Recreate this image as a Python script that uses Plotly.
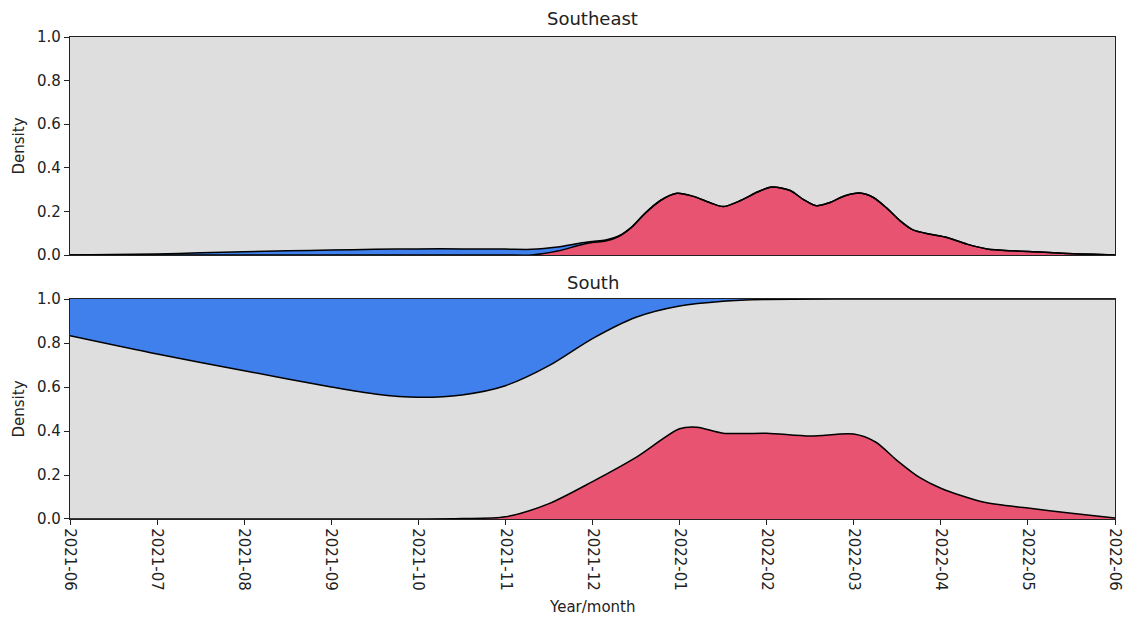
import plotly.graph_objects as go

# Month axis: 0 = 2021-06 ... 12 = 2022-06
month_labels = ["2021-06", "2021-07", "2021-08", "2021-09", "2021-10", "2021-11",
                "2021-12", "2022-01", "2022-02", "2022-03", "2022-04", "2022-05", "2022-06"]

# Southeast: two densities, stacked (red at bottom, blue on top)
se_x = [0, 0.5, 1, 1.5, 2, 2.5, 3, 3.5, 4, 4.5, 5, 5.3, 5.6, 5.85, 6.0, 6.15, 6.3,
        6.45, 6.6, 6.78, 6.97, 7.15, 7.35, 7.5, 7.7, 7.9, 8.06, 8.27, 8.42, 8.57,
        8.72, 8.9, 9.07, 9.22, 9.38, 9.53, 9.68, 9.88, 10.07, 10.3, 10.53, 10.83,
        11.14, 11.45, 11.75, 12]
se_red = [0, 0, 0, 0, 0, 0, 0, 0, 0, 0, 0, 0.0, 0.018, 0.045, 0.057, 0.064, 0.085,
          0.128, 0.19, 0.25, 0.283, 0.27, 0.24, 0.222, 0.25, 0.29, 0.312, 0.296, 0.255,
          0.226, 0.24, 0.272, 0.284, 0.265, 0.215, 0.158, 0.115, 0.095, 0.08, 0.05,
          0.028, 0.019, 0.014, 0.007, 0.003, 0.0]
se_blue = [0, 0.002, 0.005, 0.01, 0.015, 0.019, 0.023, 0.026, 0.028, 0.028, 0.027,
           0.026, 0.019, 0.009, 0.005, 0.005, 0.002, 0, 0, 0, 0, 0, 0, 0, 0, 0, 0,
           0, 0, 0, 0, 0, 0, 0, 0, 0, 0, 0, 0, 0, 0, 0, 0, 0, 0, 0]

# South: red density from zero, blue band from its lower edge up to 1.0
s_red_x = [0, 1, 2, 3, 4, 4.5, 5, 5.5, 6, 6.5, 7, 7.2, 7.5, 8, 8.5, 9, 9.25, 9.5,
           9.75, 10, 10.5, 11, 11.5, 12]
s_red = [0, 0, 0, 0, 0, 0.002, 0.01, 0.07, 0.17, 0.28, 0.41, 0.417, 0.39, 0.39,
         0.377, 0.386, 0.35, 0.265, 0.19, 0.14, 0.076, 0.05, 0.026, 0.004]
s_blue_x = [0, 1, 2, 3, 3.5, 4, 4.5, 5, 5.5, 6, 6.5, 7, 7.5, 8, 9, 10, 11, 12]
s_blue_edge = [0.833, 0.75, 0.674, 0.60, 0.568, 0.553, 0.564, 0.606, 0.697, 0.82,
               0.917, 0.968, 0.99, 0.998, 1.0, 1.0, 1.0, 1.0]
s_top = [1.0] * len(s_blue_x)

BLUE = "rgb(63,128,236)"
RED = "rgb(232,83,113)"
BG = "rgb(222,222,222)"
FONT = "DejaVu Sans"

fig = go.Figure()
line = dict(color="black", width=1.5, shape="spline", smoothing=0.8)

# Southeast panel
fig.add_trace(go.Scatter(x=se_x, y=se_red, stackgroup="se", fillcolor=RED,
                         line=line, mode="lines", xaxis="x", yaxis="y"))
fig.add_trace(go.Scatter(x=se_x, y=se_blue, stackgroup="se", fillcolor=BLUE,
                         line=line, mode="lines", xaxis="x", yaxis="y"))

# South panel
fig.add_trace(go.Scatter(x=s_blue_x, y=s_top, mode="lines",
                         line=dict(color="rgba(0,0,0,0)", width=0),
                         xaxis="x2", yaxis="y2"))
fig.add_trace(go.Scatter(x=s_blue_x, y=s_blue_edge, mode="lines", fill="tonexty",
                         fillcolor=BLUE, line=line, xaxis="x2", yaxis="y2"))
fig.add_trace(go.Scatter(x=s_red_x, y=s_red, mode="lines", fill="tozeroy",
                         fillcolor=RED, line=line, xaxis="x2", yaxis="y2"))

axis_common = dict(showline=True, linecolor="#222", linewidth=1.3, mirror=True,
                   showgrid=False, zeroline=False, automargin=False,
                   tickfont=dict(family=FONT, size=15, color="#222"))

fig.update_layout(
    width=1125, height=619,
    margin=dict(l=70, r=10, t=37, b=100),
    paper_bgcolor="white",
    plot_bgcolor=BG,
    showlegend=False,
    font=dict(family=FONT, color="#222"),
    xaxis=dict(axis_common, domain=[0, 1], range=[0, 12], anchor="y",
               tickvals=list(range(13)), ticks="", showticklabels=False),
    yaxis=dict(axis_common, domain=[0.5477, 1.0], range=[0, 1], anchor="x",
               tickvals=[0, 0.2, 0.4, 0.6, 0.8, 1.0],
               ticktext=["0.0", "0.2", "0.4", "0.6", "0.8", "1.0"],
               ticks="outside", ticklen=5, tickcolor="#222",
               title=dict(text="Density", standoff=8,
                          font=dict(family=FONT, size=15, color="#222"))),
    xaxis2=dict(axis_common, domain=[0, 1], range=[0, 12], anchor="y2",
                tickvals=list(range(13)), ticktext=month_labels, tickangle=90,
                ticks="outside", ticklen=5, tickcolor="#222"),
    yaxis2=dict(axis_common, domain=[0, 0.4564], range=[0, 1], anchor="x2",
                tickvals=[0, 0.2, 0.4, 0.6, 0.8, 1.0],
                ticktext=["0.0", "0.2", "0.4", "0.6", "0.8", "1.0"],
                ticks="outside", ticklen=5, tickcolor="#222",
                title=dict(text="Density", standoff=8,
                           font=dict(family=FONT, size=15, color="#222"))),
    annotations=[
        dict(text="Southeast", xref="paper", yref="paper", x=0.5, y=1.0,
             xanchor="center", yanchor="bottom", yshift=6, showarrow=False,
             font=dict(family=FONT, size=18, color="#222")),
        dict(text="South", xref="paper", yref="paper", x=0.5, y=0.4564,
             xanchor="center", yanchor="bottom", yshift=4, showarrow=False,
             font=dict(family=FONT, size=18, color="#222")),
        dict(text="Year/month", xref="paper", yref="paper", x=0.5, y=-0.1826,
             xanchor="center", yanchor="middle", showarrow=False,
             font=dict(family=FONT, size=15, color="#222")),
    ],
)

fig.write_html("out.html")
